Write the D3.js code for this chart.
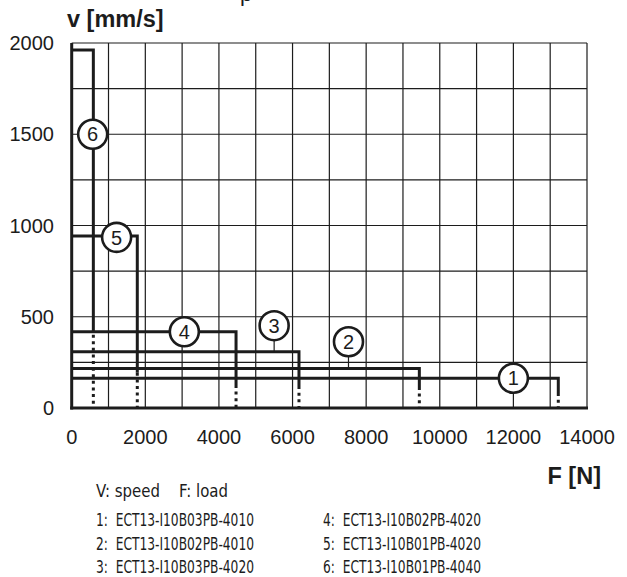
<!DOCTYPE html>
<html>
<head>
<meta charset="utf-8">
<script src="https://cdn.jsdelivr.net/npm/d3@7"></script>
<style>
  html, body { margin: 0; padding: 0; background: #fff; }
  svg { display: block; }
</style>
</head>
<body>
<div id="chart"></div>
<script>
// ---- data ----
const curveIds   = [1, 2, 3, 4, 5, 6];
const speeds     = [163, 217, 308, 418, 942, 1962];     // v [mm/s] plateau
const maxLoads   = [13220, 9445, 6175, 4465, 1782, 588]; // F [N] corner
const solidEnds  = [82, 115, 120, 126, 193, 438];       // v where dotted part starts
const labelF     = [12000, 7520, 5500, 3060, 1220, 570];
const labelV     = [163, 363, 451, 418, 935, 1500];
const xTicks     = [0, 2000, 4000, 6000, 8000, 10000, 12000, 14000];
const yTicks     = [0, 500, 1000, 1500, 2000];
const xGrid      = d3.range(1000, 14001, 1000);
const yGrid      = d3.range(250, 2001, 250);
const legendLeft = ["1:  ECT13-I10B03PB-4010", "2:  ECT13-I10B02PB-4010", "3:  ECT13-I10B03PB-4020"];
const legendRight= ["4:  ECT13-I10B02PB-4020", "5:  ECT13-I10B01PB-4020", "6:  ECT13-I10B01PB-4040"];

const W = 627, H = 577;
const x = d3.scaleLinear().domain([0, 14000]).range([71.7, 587]);
const y = d3.scaleLinear().domain([0, 2000]).range([408, 43]);
const ink = "#1c1c1c";

const svg = d3.select("#chart").append("svg")
  .attr("width", W).attr("height", H)
  .style("font-family", "'Liberation Sans', Arial, sans-serif");

// cut-off heading fragment at top (as in the reference)
svg.append("text").attr("x", 240).attr("y", 1)
  .attr("font-size", 22).attr("fill", ink).text("p");

// grid
const g = svg.append("g");
g.selectAll(".vg").data(xGrid).join("line")
  .attr("x1", d => x(d)).attr("x2", d => x(d))
  .attr("y1", y(0)).attr("y2", y(2000))
  .attr("stroke", ink).attr("stroke-width", 1.2);
g.selectAll(".hg").data(yGrid).join("line")
  .attr("x1", x(0)).attr("x2", x(14000))
  .attr("y1", d => y(d)).attr("y2", d => y(d))
  .attr("stroke", ink).attr("stroke-width", 1.2);

// curves
const idx = d3.range(curveIds.length);
svg.append("g").selectAll("path").data(idx).join("path")
  .attr("d", i => d3.line()([[x(0), y(speeds[i])], [x(maxLoads[i]), y(speeds[i])], [x(maxLoads[i]), y(solidEnds[i])]]))
  .attr("fill", "none").attr("stroke", ink).attr("stroke-width", 3)
  .attr("stroke-linejoin", "miter");
svg.append("g").selectAll("line").data(idx).join("line")
  .attr("x1", i => x(maxLoads[i])).attr("x2", i => x(maxLoads[i]))
  .attr("y1", i => y(solidEnds[i])).attr("y2", y(0))
  .attr("stroke", ink).attr("stroke-width", 3)
  .attr("stroke-dasharray", "3,3.6");

// axes (thick)
svg.append("line").attr("x1", x(0)).attr("x2", x(0)).attr("y1", y(0) + 1.5).attr("y2", y(2000))
  .attr("stroke", ink).attr("stroke-width", 3);
svg.append("line").attr("x1", x(0) - 1.5).attr("x2", x(14000) + 1).attr("y1", y(0)).attr("y2", y(0))
  .attr("stroke", ink).attr("stroke-width", 3);

// label stems (circle above its curve)
const r = 14.5;
svg.append("g").selectAll("line").data(idx.filter(i => labelV[i] > speeds[i] + 20 && curveIds[i] !== 6)).join("line")
  .attr("x1", i => x(labelF[i])).attr("x2", i => x(labelF[i]))
  .attr("y1", i => y(labelV[i]) + r).attr("y2", i => y(speeds[i]))
  .attr("stroke", ink).attr("stroke-width", 1.2);

// circles with numbers
const lab = svg.append("g").selectAll("g").data(idx).join("g")
  .attr("transform", i => `translate(${x(labelF[i])},${y(labelV[i])})`);
lab.append("circle").attr("r", r).attr("fill", "#fff").attr("stroke", ink).attr("stroke-width", 2.6);
lab.append("text").attr("text-anchor", "middle").attr("dy", "0.36em")
  .attr("font-size", 20).attr("fill", ink).text(i => curveIds[i]);

// tick labels
svg.append("g").selectAll("text").data(yTicks).join("text")
  .attr("x", 54).attr("y", d => y(d)).attr("dy", "0.36em")
  .attr("text-anchor", "end").attr("font-size", 20).attr("fill", ink).text(d => d);
svg.append("g").selectAll("text").data(xTicks).join("text")
  .attr("x", d => x(d)).attr("y", 444)
  .attr("text-anchor", "middle").attr("font-size", 20).attr("fill", ink).text(d => d);

// axis titles
svg.append("text").attr("x", 67).attr("y", 27).attr("font-size", 23.5).attr("font-weight", "bold")
  .attr("fill", ink).text("v [mm/s]");
svg.append("text").attr("x", 601).attr("y", 484).attr("text-anchor", "end").attr("font-size", 23.5)
  .attr("font-weight", "bold").attr("fill", ink).text("F [N]");

// legend (condensed)
const leg = svg.append("g")
  .style("font-family", "'Liberation Sans Narrow', 'DejaVu Sans', sans-serif")
  .style("font-stretch", "condensed")
  .attr("font-size", 18).attr("fill", ink);
leg.append("text").attr("x", 96).attr("y", 497).attr("xml:space", "preserve")
  .attr("textLength", 132).attr("lengthAdjust", "spacingAndGlyphs")
  .text("V: speed    F: load");
leg.selectAll(".l").data(legendLeft).join("text")
  .attr("x", 96).attr("y", (d, i) => 526 + i * 23.5).attr("xml:space", "preserve")
  .attr("textLength", 158).attr("lengthAdjust", "spacingAndGlyphs").text(d => d);
leg.selectAll(".rr").data(legendRight).join("text")
  .attr("x", 323).attr("y", (d, i) => 526 + i * 23.5).attr("xml:space", "preserve")
  .attr("textLength", 158).attr("lengthAdjust", "spacingAndGlyphs").text(d => d);
</script>
</body>
</html>
